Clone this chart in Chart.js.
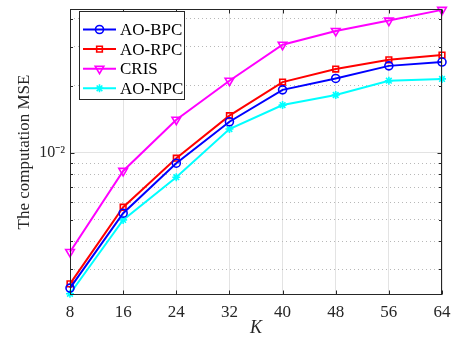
<!DOCTYPE html>
<html><head><meta charset="utf-8">
<script src="https://cdn.jsdelivr.net/npm/chart.js@4/dist/chart.umd.min.js"></script>
<style>html,body{margin:0;padding:0;background:#fff}canvas{display:block}</style>
</head><body>
<canvas id="c" width="452" height="339"></canvas>
<script>
const categories = ['8','16','24','32','40','48','56','64'];
const aoBPC = [0.00247, 0.00536, 0.00899, 0.0138, 0.0192, 0.0216, 0.0246, 0.0256];
const aoRPC = [0.00258, 0.00570, 0.00947, 0.0147, 0.0208, 0.0238, 0.0262, 0.0275];
const cris  = [0.00359, 0.00830, 0.0141, 0.0211, 0.0306, 0.0353, 0.0393, 0.0439];
const aoNPC = [0.00233, 0.00500, 0.00778, 0.0128, 0.0164, 0.0182, 0.0211, 0.0215];
const yTickValues = [0.003,0.004,0.005,0.006,0.007,0.008,0.009,0.01,0.02,0.03,0.04];
const yMajor = 0.01;
const yMajorLabel = '10\u207B\u00B2';
const yMin = 0.00230, yMax = 0.0443;

const SERIF = "'Liberation Serif','Times New Roman',serif";
const AX = '#262626';

const frame = {
  id: 'frame',
  afterDatasetsDraw(chart) {
    const {ctx, chartArea: a, scales: {x, y}} = chart;
    ctx.save();
    ctx.strokeStyle = AX; ctx.lineWidth = 1;
    const L = Math.round(a.left) + 0.5, R = Math.round(a.right) - 0.5;
    const T = Math.round(a.top) + 0.5, B = Math.round(a.bottom) - 0.5;
    ctx.beginPath();
    x.ticks.forEach((t, i) => {
      const px = Math.round(x.getPixelForTick(i)) + 0.5;
      ctx.moveTo(px, B); ctx.lineTo(px, B - 4);
      ctx.moveTo(px, T); ctx.lineTo(px, T + 4);
    });
    y.ticks.forEach(t => {
      const py = Math.round(y.getPixelForValue(t.value)) + 0.5;
      const len = t.value === yMajor ? 4 : 2.5;
      ctx.moveTo(L, py); ctx.lineTo(L + len, py);
      ctx.moveTo(R, py); ctx.lineTo(R - len, py);
    });
    ctx.stroke();
    ctx.strokeRect(L, T, R - L, B - T);
    ctx.restore();
  }
};

const legendBox = {
  id: 'legendBox',
  afterDraw(chart) {
    const ctx = chart.ctx;
    const bx = 79.5, by = 11.5, bw = 105, bh = 88;
    ctx.save();
    ctx.fillStyle = '#fff'; ctx.fillRect(bx, by, bw, bh);
    ctx.strokeStyle = AX; ctx.lineWidth = 1; ctx.strokeRect(bx, by, bw, bh);
    ctx.font = '17px ' + SERIF; ctx.textBaseline = 'middle'; ctx.fillStyle = '#000';
    chart.data.datasets.forEach((d, i) => {
      const yy = 29.5 + i * 19.6;
      ctx.strokeStyle = d.borderColor; ctx.lineWidth = d.borderWidth;
      ctx.beginPath(); ctx.moveTo(83, yy); ctx.lineTo(116, yy); ctx.stroke();
      ctx.fillStyle = 'rgba(0,0,0,0)'; ctx.lineWidth = d.pointBorderWidth;
      Chart.helpers.drawPoint(ctx, {pointStyle: d.pointStyle, rotation: d.pointRotation || 0, radius: d.pointRadius, borderWidth: d.pointBorderWidth}, 99.5, yy);
      ctx.fillStyle = '#000';
      ctx.fillText(d.label, 120, yy + 1);
    });
    ctx.restore();
  }
};

function ds(label, data, color, style, radius, rot) {
  return {label, data, borderColor: color, backgroundColor: 'rgba(0,0,0,0)',
    pointBackgroundColor: 'rgba(0,0,0,0)', pointBorderColor: color,
    pointStyle: style, pointRadius: radius, pointRotation: rot || 0,
    borderWidth: 2, pointBorderWidth: 1.6, tension: 0, clip: false};
}

new Chart(document.getElementById('c'), {
  type: 'line',
  data: {
    labels: categories,
    datasets: [
      ds('AO-BPC', aoBPC, '#0000ff', 'circle', 4),
      ds('AO-RPC', aoRPC, '#ff0000', 'rect', 4),
      ds('CRIS', cris, '#ff00ff', 'triangle', 5, 180),
      ds('AO-NPC', aoNPC, '#00ffff', 'star', 4)
    ]
  },
  options: {
    responsive: false, animation: false, devicePixelRatio: 1,
    layout: {padding: {top: 9, right: 10, left: 0, bottom: 0}},
    plugins: {legend: {display: false}, tooltip: {enabled: false}},
    scales: {
      x: {
        type: 'category', offset: false,
        grid: {color: '#e3e3e3', lineWidth: 1, drawTicks: false, offset: false},
        border: {display: false},
        ticks: {color: AX, font: {family: SERIF, size: 17}, padding: 7, maxRotation: 0, autoSkip: false},
        title: {display: true, text: 'K', color: AX, font: {family: SERIF, size: 18, style: 'italic'}, padding: {top: 0, bottom: 0}},
        afterFit(s) { s.height = 44; s.paddingLeft = 0; s.paddingRight = 0; }
      },
      y: {
        type: 'logarithmic', min: yMin, max: yMax,
        afterBuildTicks(s) { s.ticks = yTickValues.map(v => ({value: v, major: v === yMajor})); },
        grid: {
          drawTicks: false, lineWidth: 1,
          color: c => (c.tick && c.tick.value === yMajor) ? '#e3e3e3' : '#b8b8b8'
        },
        border: {display: false, dash: c => (c.tick && c.tick.value === yMajor) ? [] : [1, 3]},
        ticks: {color: AX, font: {family: SERIF, size: 16}, padding: 5,
          callback: v => (Math.abs(v - yMajor) < 1e-9 ? yMajorLabel : '')},
        title: {display: true, text: 'The computation MSE', color: AX, font: {family: SERIF, size: 17}, padding: {top: 14, bottom: 0}},
        afterFit(s) { s.width = 70; s.paddingTop = 0; s.paddingBottom = 0; }
      }
    }
  },
  plugins: [frame, legendBox]
});
</script>
</body></html>
